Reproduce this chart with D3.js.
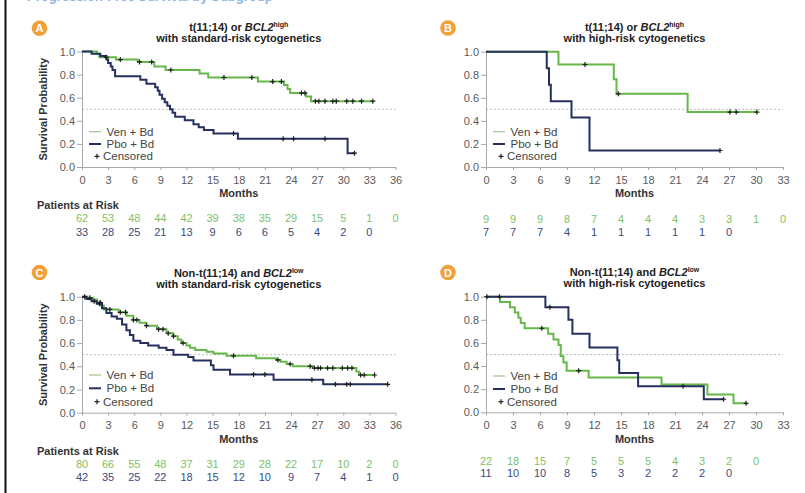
<!DOCTYPE html>
<html>
<head>
<meta charset="utf-8">
<script src="https://cdn.jsdelivr.net/npm/d3@7"></script>
<style>
  html, body { margin: 0; padding: 0; background: #fff; }
  svg { display: block; font-family: "Liberation Sans", Arial, sans-serif; }
</style>
</head>
<body>
<svg id="chart" width="805" height="493"></svg>
<script>
// ---- Kaplan–Meier step data: [month, survival probability] ----
// A: t(11;14) or BCL2 high, standard-risk cytogenetics
const aVenSteps = [[0,1],[1.7,0.98],[2.0,0.95],[3.9,0.93],[6.4,0.91],[8.3,0.87],[9.6,0.84],[13.5,0.81],[14.5,0.775],[20.2,0.74],[23.2,0.71],[23.6,0.675],[23.9,0.64],[25.7,0.61],[26.3,0.57],[33.4,0.57]];
const aVenCensored = [2.8,4.4,6.6,8.0,10.2,16.3,19.5,21.9,22.9,25.2,25.6,26.8,27.2,27.9,28.8,29.2,30.4,31.1,32.1,33.4];
const aPboSteps = [[0,1],[1.1,0.98],[2.1,0.96],[2.8,0.93],[3.0,0.90],[3.3,0.87],[3.5,0.84],[3.8,0.785],[6.7,0.755],[7.4,0.72],[8.4,0.69],[8.7,0.66],[8.9,0.625],[9.2,0.59],[9.5,0.56],[9.8,0.53],[10.1,0.50],[10.4,0.47],[10.7,0.435],[11.8,0.405],[12.8,0.37],[13.4,0.345],[14.0,0.32],[15.1,0.29],[17.9,0.245],[30.5,0.12],[31.3,0.12]];
const aPboCensored = [17.4,23.1,24.3,27.9,31.3];

// B: t(11;14) or BCL2 high, high-risk cytogenetics
const bVenSteps = [[0,1],[8.05,0.889],[14.2,0.762],[14.5,0.635],[22.4,0.476],[30.1,0.476]];
const bVenCensored = [11.0,14.7,27.1,27.8,30.1];
const bPboSteps = [[0,1],[6.75,0.857],[7.0,0.714],[7.2,0.571],[9.5,0.429],[11.5,0.143],[26.0,0.143]];
const bPboCensored = [26.0];

// C: non-t(11;14) and BCL2 low, standard-risk cytogenetics
const cVenSteps = [[0,1],[0.6,0.99],[1.3,0.975],[1.7,0.95],[2.2,0.925],[2.5,0.89],[4.2,0.865],[5.1,0.835],[5.9,0.80],[6.6,0.775],[7.4,0.75],[8.6,0.72],[9.7,0.685],[10.5,0.66],[11.0,0.63],[11.4,0.60],[12.0,0.58],[12.4,0.56],[13.0,0.54],[14.3,0.525],[15.1,0.51],[16.6,0.49],[20.0,0.47],[22.3,0.455],[22.8,0.44],[23.5,0.42],[24.2,0.40],[26.5,0.385],[31.5,0.355],[31.8,0.325],[33.6,0.325]];
const cVenCensored = [0.3,0.9,2.1,3.2,4.4,5.0,5.9,6.3,7.4,8.8,9.3,9.9,10.5,11.6,17.4,22.5,23.9,26.2,26.7,27.1,27.4,28.2,28.8,29.9,30.5,31.0,32.0,32.4,33.6];
const cPboSteps = [[0,1],[0.5,0.98],[1.1,0.96],[1.7,0.94],[2.3,0.90],[2.8,0.86],[3.4,0.83],[4.0,0.81],[4.6,0.76],[5.1,0.71],[5.5,0.67],[5.9,0.62],[6.7,0.60],[7.6,0.58],[8.8,0.56],[9.7,0.54],[10.5,0.50],[12.2,0.48],[12.8,0.45],[14.8,0.41],[15.1,0.37],[17.0,0.33],[22.0,0.285],[27.7,0.245],[35.1,0.245]];
const cPboCensored = [1.4,2.0,19.7,21.0,26.4,29.1,30.4,30.8,35.1];

// D: non-t(11;14) and BCL2 low, high-risk cytogenetics
const dVenSteps = [[0,1],[1.56,0.955],[2.67,0.909],[3.2,0.864],[3.6,0.818],[3.86,0.773],[4.3,0.727],[6.9,0.679],[7.5,0.63],[8.05,0.582],[8.3,0.485],[8.6,0.43],[8.96,0.36],[11.4,0.30],[19.5,0.24],[24.6,0.155],[27.5,0.078],[28.9,0.078]];
const dVenCensored = [0.1,6.2,10.3,28.9];
const dPboSteps = [[0,1],[6.6,0.909],[9.16,0.80],[9.6,0.68],[11.5,0.56],[14.6,0.45],[14.8,0.34],[16.9,0.225],[24.2,0.113],[26.4,0.113]];
const dPboCensored = [1.5,7.1,21.9,26.4];

// ---- Patients at risk (every 3 months) ----
const aVenRisk = [62,53,48,44,42,39,38,35,29,15,5,1,0];
const aPboRisk = [33,28,25,21,13,9,6,6,5,4,2,0];
const bVenRisk = [9,9,9,8,7,4,4,4,3,3,1,0];
const bPboRisk = [7,7,7,4,1,1,1,1,1,0];
const cVenRisk = [80,66,55,48,37,31,29,28,22,17,10,2,0];
const cPboRisk = [42,35,25,22,18,15,12,10,9,7,4,1,0];
const dVenRisk = [22,18,15,7,5,5,5,4,3,2,0];
const dPboRisk = [11,10,10,8,5,3,2,2,2,0];

// ---- Axis ticks and labels ----
const monthTicks36 = [0,3,6,9,12,15,18,21,24,27,30,33,36];
const monthTicks33 = [0,3,6,9,12,15,18,21,24,27,30,33];
const probTicks = [0,0.2,0.4,0.6,0.8,1.0];
const seriesNames = ["Ven + Bd", "Pbo + Bd"];
const panelLetters = ["A","B","C","D"];
const titleLine1 = [
  ["t(11;14) or ", "BCL2", "high"],
  ["t(11;14) or ", "BCL2", "high"],
  ["Non-t(11;14) and ", "BCL2", "low"],
  ["Non-t(11;14) and ", "BCL2", "low"]
];
const titleLine2 = [
  "with standard-risk cytogenetics",
  "with high-risk cytogenetics",
  "with standard-risk cytogenetics",
  "with high-risk cytogenetics"
];

// ---- Styles ----
const GREEN = "#66b84a";
const NAVY = "#25305f";
const GREEN_TXT = "#80bf68";
const NAVY_TXT = "#3c4a80";
const AXIS = "#a9a9a9";
const TXT = "#5a5a5a";

const svg = d3.select("#chart");

// page frame and running heading (heading sits above the page edge)
svg.append("rect").attr("x", 4.5).attr("y", 0).attr("width", 2).attr("height", 493).attr("fill", "#111");
svg.append("text").attr("x", 27).attr("y", 1).attr("font-size", 13).attr("font-weight", "bold")
  .attr("fill", "#8db6e0").text("Progression-Free Survival by Subgroup");

const panels = [
  { ven: aVenSteps, venC: aVenCensored, pbo: aPboSteps, pboC: aPboCensored, venR: aVenRisk, pboR: aPboRisk,
    ticks: monthTicks36, left: 82, right: 395.5, top: 51.5, bottom: 167, badge: [39.5, 28.3],
    t1: 30.5, t2: 42, leg: [131.7, 144, 156.3], riskY: [218.3, 231.7], showY: true, par: 205, months: 193 },
  { ven: bVenSteps, venC: bVenCensored, pbo: bPboSteps, pboC: bPboCensored, venR: bVenRisk, pboR: bPboRisk,
    ticks: monthTicks33, left: 486, right: 783, top: 51.7, bottom: 167, badge: [448, 28],
    t1: 30.5, t2: 42, leg: [131.7, 144, 156.3], riskY: [219, 231.7], showY: false, months: 193 },
  { ven: cVenSteps, venC: cVenCensored, pbo: cPboSteps, pboC: cPboCensored, venR: cVenRisk, pboR: cPboRisk,
    ticks: monthTicks36, left: 82, right: 395.5, top: 296.7, bottom: 412.7, badge: [39.5, 272.5],
    t1: 276.5, t2: 288, leg: [375, 388.3, 401.7], riskY: [464.3, 476.7], showY: true, par: 451, months: 439 },
  { ven: dVenSteps, venC: dVenCensored, pbo: dPboSteps, pboC: dPboCensored, venR: dVenRisk, pboR: dPboRisk,
    ticks: monthTicks33, left: 486, right: 783, top: 296.7, bottom: 412.3, badge: [448, 272.5],
    t1: 275.5, t2: 287, leg: [376, 389, 401.7], riskY: [460.7, 473.3], showY: false, months: 439 }
];

function survivalAt(steps, t) {
  let s = steps[0][1];
  for (const [tt, ss] of steps) { if (tt <= t + 1e-9) s = ss; }
  return s;
}

function plusMark(g, cx, cy, size, color) {
  g.append("path")
    .attr("d", `M${cx - size},${cy}H${cx + size}M${cx},${cy - size}V${cy + size}`)
    .attr("stroke", color).attr("stroke-width", 1.2).attr("fill", "none");
}

panels.forEach((p, i) => {
  const g = svg.append("g");
  const xMax = p.ticks[p.ticks.length - 1];
  const x = d3.scaleLinear().domain([0, xMax]).range([p.left, p.right]);
  const y = d3.scaleLinear().domain([0, 1]).range([p.bottom, p.top]);
  const cx = (p.left + p.right) / 2;

  // badge
  g.append("circle").attr("cx", p.badge[0]).attr("cy", p.badge[1]).attr("r", 7.8).attr("fill", "#f2a03a");
  g.append("text").attr("x", p.badge[0]).attr("y", p.badge[1] + 4).attr("text-anchor", "middle")
    .attr("font-size", 11).attr("font-weight", "bold").attr("fill", "#fff").text(panelLetters[i]);

  // title
  const tl = g.append("text").attr("x", cx).attr("y", p.t1).attr("text-anchor", "middle")
    .attr("font-size", 11).attr("font-weight", "bold").attr("fill", "#222");
  tl.append("tspan").text(titleLine1[i][0]);
  tl.append("tspan").attr("font-style", "italic").text(titleLine1[i][1]);
  tl.append("tspan").attr("font-size", 7).attr("dy", -4).text(titleLine1[i][2]);
  g.append("text").attr("x", cx).attr("y", p.t2).attr("text-anchor", "middle")
    .attr("font-size", 11).attr("font-weight", "bold").attr("fill", "#222").text(titleLine2[i]);

  // median reference line
  g.append("line").attr("x1", x(0)).attr("x2", x(xMax)).attr("y1", y(0.5)).attr("y2", y(0.5))
    .attr("stroke", "#bdbdbd").attr("stroke-width", 1).attr("stroke-dasharray", "2,2");

  // axes
  const xAxis = d3.axisBottom(x).tickValues(p.ticks).tickSize(3).tickSizeOuter(0).tickPadding(6)
    .tickFormat(d3.format("d"));
  const gx = g.append("g").attr("transform", `translate(0,${p.bottom})`).call(xAxis);
  const yAxis = d3.axisLeft(y).tickValues(probTicks).tickSize(5).tickSizeOuter(0).tickPadding(2)
    .tickFormat(d3.format(".1f"));
  const gy = g.append("g").attr("transform", `translate(${p.left},0)`).call(yAxis);
  [gx, gy].forEach(a => {
    a.attr("font-family", null).attr("font-size", 11);
    a.selectAll("path, line").attr("stroke", AXIS);
    a.selectAll("text").attr("fill", TXT);
  });

  g.append("text").attr("x", cx).attr("y", p.months + 4).attr("text-anchor", "middle")
    .attr("font-size", 11).attr("font-weight", "bold").attr("fill", "#333").text("Months");

  if (p.showY) {
    g.append("text").attr("transform", `translate(46.5,${(p.top + p.bottom) / 2}) rotate(-90)`)
      .attr("text-anchor", "middle").attr("font-size", 11).attr("font-weight", "bold").attr("fill", "#333")
      .text("Survival Probability");
    g.append("text").attr("x", 37).attr("y", p.par + 4).attr("font-size", 11).attr("font-weight", "bold")
      .attr("fill", "#333").text("Patients at Risk");
  }

  // survival curves
  const line = d3.line().x(d => x(d[0])).y(d => y(d[1])).curve(d3.curveStepAfter);
  g.append("path").attr("d", line(p.ven)).attr("fill", "none").attr("stroke", GREEN).attr("stroke-width", 2);
  g.append("path").attr("d", line(p.pbo)).attr("fill", "none").attr("stroke", NAVY).attr("stroke-width", 2);

  // censoring marks
  p.venC.forEach(t => plusMark(g, x(t), y(survivalAt(p.ven, t)), 2.5, "#1e1e1e"));
  p.pboC.forEach(t => plusMark(g, x(t), y(survivalAt(p.pbo, t)), 2.5, "#1e1e1e"));

  // legend
  const lx = p.left;
  g.append("line").attr("x1", lx + 7).attr("x2", lx + 19).attr("y1", p.leg[0]).attr("y2", p.leg[0])
    .attr("stroke", "#a9c79c").attr("stroke-width", 1.3);
  g.append("line").attr("x1", lx + 7).attr("x2", lx + 19).attr("y1", p.leg[1]).attr("y2", p.leg[1])
    .attr("stroke", NAVY).attr("stroke-width", 2);
  [seriesNames[0], seriesNames[1]].forEach((name, k) => {
    g.append("text").attr("x", lx + 24.5).attr("y", p.leg[k] + 4).attr("font-size", 11.5)
      .attr("fill", "#444").text(name);
  });
  plusMark(g, lx + 15, p.leg[2], 2.5, "#222");
  g.append("text").attr("x", lx + 21).attr("y", p.leg[2] + 4).attr("font-size", 11.5)
    .attr("fill", "#444").text("Censored");

  // patients at risk
  p.venR.forEach((n, k) => {
    g.append("text").attr("x", x(p.ticks[k])).attr("y", p.riskY[0] + 4).attr("text-anchor", "middle")
      .attr("font-size", 11).attr("fill", GREEN_TXT).text(n);
  });
  p.pboR.forEach((n, k) => {
    g.append("text").attr("x", x(p.ticks[k])).attr("y", p.riskY[1] + 4).attr("text-anchor", "middle")
      .attr("font-size", 11).attr("fill", NAVY_TXT).text(n);
  });
});
</script>
</body>
</html>
